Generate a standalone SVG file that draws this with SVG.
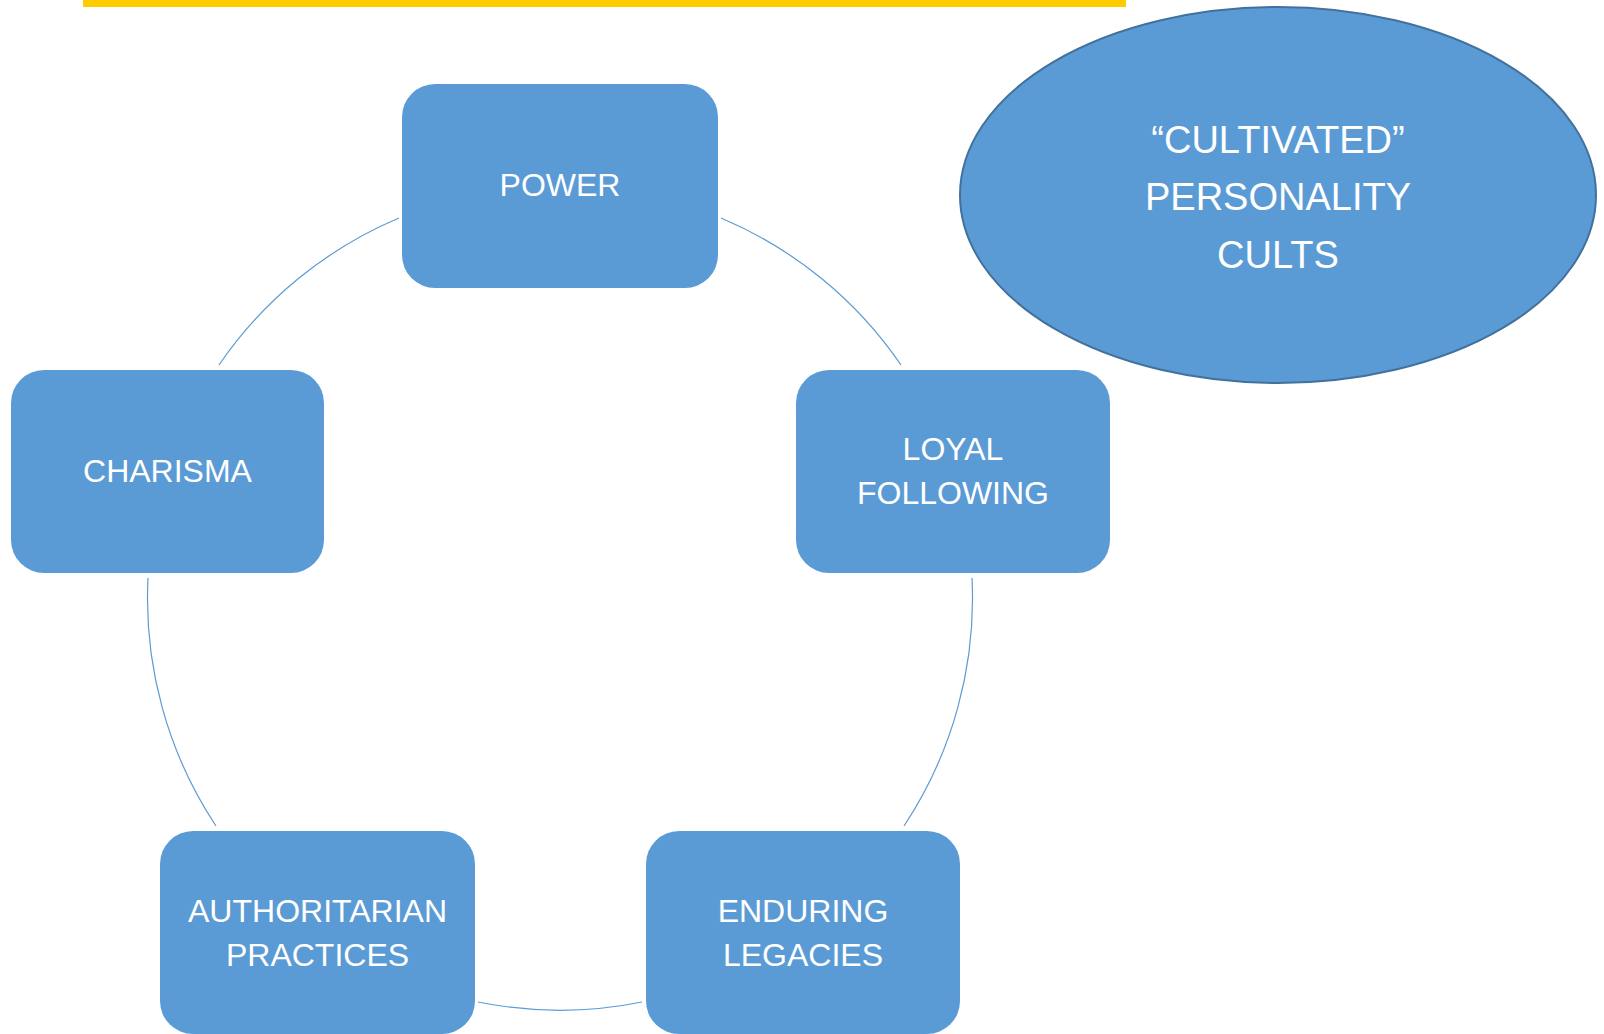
<svg xmlns="http://www.w3.org/2000/svg" width="1604" height="1034" viewBox="0 0 1604 1034">
<style>
.box{fill:#5B9BD5;}
.lbl{font-family:"Liberation Sans",Arial,sans-serif;font-size:32px;fill:#FFFFFF;text-anchor:middle;}
.big{font-family:"Liberation Sans",Arial,sans-serif;font-size:38px;fill:#FFFFFF;text-anchor:middle;}
.conn{fill:none;stroke:#5B9BD5;stroke-width:1.2;}
</style>
<rect x="83" y="0" width="1043" height="7" fill="#FFCC00"/>
<g id="connectors">
<path class="conn" d="M399,218 A412,412 0 0 0 219,365"/>
<path class="conn" d="M721,218 A412,412 0 0 1 901,365"/>
<path class="conn" d="M148,578 A412,412 0 0 0 216,826"/>
<path class="conn" d="M972,578 A412,412 0 0 1 904,826"/>
<path class="conn" d="M478,1002 A412,412 0 0 0 642,1002"/>
</g>
<g id="power">
<rect class="box" x="402" y="84" width="316" height="204" rx="33"/>
<text class="lbl" x="560" y="196">POWER</text>
</g>
<g id="charisma">
<rect class="box" x="11" y="370" width="313" height="203" rx="33"/>
<text class="lbl" x="167.5" y="482">CHARISMA</text>
</g>
<g id="loyal-following">
<rect class="box" x="796" y="370" width="314" height="203" rx="33"/>
<text class="lbl" x="953" y="460">LOYAL</text>
<text class="lbl" x="953" y="504">FOLLOWING</text>
</g>
<g id="authoritarian-practices">
<rect class="box" x="160" y="831" width="315" height="203" rx="33"/>
<text class="lbl" x="317.5" y="922">AUTHORITARIAN</text>
<text class="lbl" x="317.5" y="966">PRACTICES</text>
</g>
<g id="enduring-legacies">
<rect class="box" x="646" y="831" width="314" height="203" rx="33"/>
<text class="lbl" x="803" y="922">ENDURING</text>
<text class="lbl" x="803" y="966">LEGACIES</text>
</g>
<g id="personality-cults">
<ellipse cx="1278" cy="195" rx="318" ry="188" fill="#5B9BD5" stroke="#41719C" stroke-width="2"/>
<text class="big" x="1278" y="153">“CULTIVATED”</text>
<text class="big" x="1278" y="210">PERSONALITY</text>
<text class="big" x="1278" y="268">CULTS</text>
</g>
</svg>
